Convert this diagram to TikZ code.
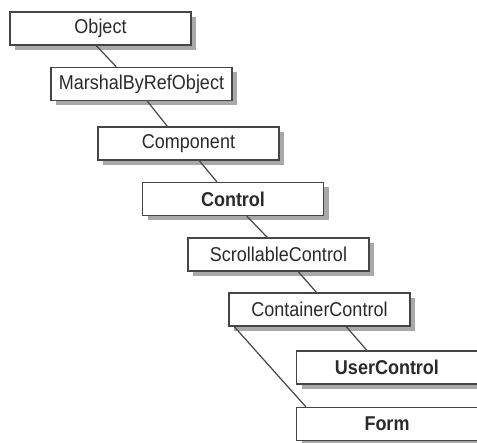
\documentclass[tikz,border=0pt]{standalone}
\usepackage{fontspec}
\setmainfont{Liberation Sans}[FakeStretch=0.9]
\usetikzlibrary{shadows}
\definecolor{boxline}{HTML}{454545}
\definecolor{txt}{HTML}{2A2A2A}
\definecolor{shade}{HTML}{A8A8A8}
\begin{document}
\begin{tikzpicture}[x=1pt,y=-1pt,
  cls/.style={draw=boxline, line width=1.4pt, fill=white, minimum width=181pt, minimum height=33pt,
    inner sep=0pt, text=txt, font=\fontsize{20}{23}\selectfont,
    drop shadow={shadow xshift=5pt, shadow yshift=-5pt, fill=shade, opacity=1}},
  key/.style={cls, font=\fontsize{20}{23}\selectfont\bfseries},
  link/.style={draw=boxline, line width=1.2pt}]
\useasboundingbox (0,0) rectangle (477,443);
\fill[white] (0,0) rectangle (477,443);
\node[cls] (obj) at (100.5,28.5) {Object};
\node[cls] (mbro) at (141.5,84) {MarshalByRefObject};
\node[cls] (comp) at (188.5,143.5) {Component};
\node[key] (ctrl) at (233,199) {Control};
\node[cls] (scroll) at (278.5,254.5) {ScrollableControl};
\node[cls] (cont) at (319.5,309.5) {ContainerControl};
\node[key] (user) at (387,367.5) {UserControl};
\node[key] (form) at (387,424) {Form};
\draw[link] ([xshift=87pt]obj.south west) -- ([xshift=66pt]mbro.north west);
\draw[link] ([xshift=97pt]mbro.south west) -- ([xshift=70pt]comp.north west);
\draw[link] ([xshift=102pt]comp.south west) -- ([xshift=75pt]ctrl.north west);
\draw[link] ([xshift=105pt]ctrl.south west) -- ([xshift=80pt]scroll.north west);
\draw[link] ([xshift=111pt]scroll.south west) -- ([xshift=88pt]cont.north west);
\draw[link] ([xshift=118pt]cont.south west) -- ([xshift=71pt]user.north west);
\draw[link] ([xshift=6pt]cont.south west) -- ([xshift=10pt]form.north west);
\end{tikzpicture}
\end{document}
